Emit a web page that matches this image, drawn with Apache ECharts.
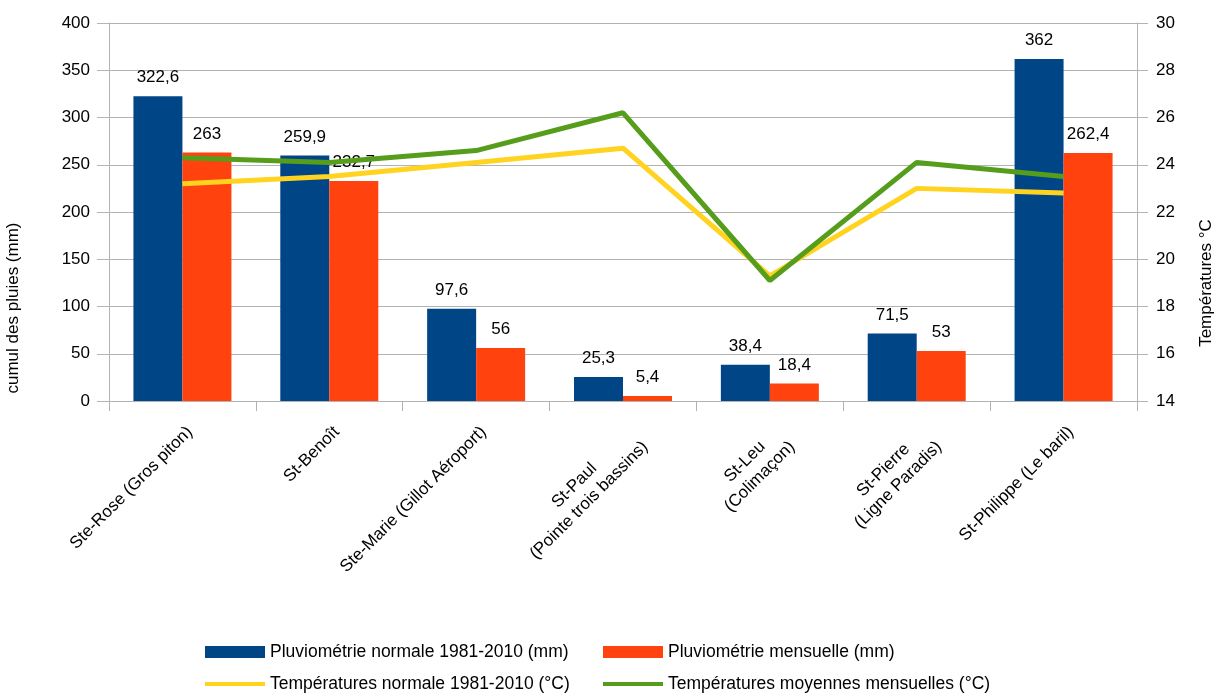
<!DOCTYPE html>
<html>
<head>
<meta charset="utf-8">
<script src="https://cdn.jsdelivr.net/npm/echarts@6/dist/echarts.min.js"></script>
<style>
html,body{margin:0;padding:0;background:#fff;}
#chart{width:1216px;height:693px;}
</style>
</head>
<body>
<div id="chart"></div>
<script>
const categories = [
  'Ste-Rose (Gros piton)',
  'St-Benoît',
  'Ste-Marie (Gillot Aéroport)',
  'St-Paul\n(Pointe trois bassins)',
  'St-Leu\n(Colimaçon)',
  'St-Pierre\n(Ligne Paradis)',
  'St-Philippe (Le baril)'
];
const pluieNormale = [322.6, 259.9, 97.6, 25.3, 38.4, 71.5, 362];
const pluieMensuelle = [263, 232.7, 56, 5.4, 18.4, 53, 262.4];
const tempNormale = [23.2, 23.5, 24.1, 24.7, 19.3, 23.0, 22.8];
const tempMoyenne = [24.3, 24.1, 24.6, 26.2, 19.1, 24.1, 23.5];
const seriesNames = [
  'Pluviométrie normale 1981-2010 (mm)',
  'Pluviométrie mensuelle (mm)',
  'Températures normale 1981-2010 (°C)',
  'Températures moyennes mensuelles (°C)'
];
const leftAxisName = 'cumul des pluies (mm)';
const rightAxisName = 'Températures °C';
const colors = ['#004586', '#ff420e', '#ffd320', '#579d1c'];
const FONT = '"Liberation Sans", Arial, sans-serif';
const FS = 17;

const fmt = v => String(v).replace('.', ',');
const chart = echarts.init(document.getElementById('chart'));

const legendCommon = {
  itemWidth: 60,
  padding: 0,
  textStyle: {fontFamily: FONT, fontSize: 17.5, color: '#000'},
  itemGap: 6,
  selectedMode: false
};

const barLabel = {show: true, position: 'top', distance: 10, fontSize: FS, color: '#000', fontFamily: FONT, formatter: p => fmt(p.value)};

chart.setOption({
  animation: false,
  color: colors,
  textStyle: {fontFamily: FONT},
  grid: {left: 109, right: 79, top: 23, bottom: 292, containLabel: false},
  legend: [
    Object.assign({}, legendCommon, {left: 205, top: 643, itemHeight: 12, icon: 'rect', data: [seriesNames[0]]}),
    Object.assign({}, legendCommon, {left: 603, top: 643, itemHeight: 12, icon: 'rect', data: [seriesNames[1]]}),
    Object.assign({}, legendCommon, {left: 205, top: 675, itemHeight: 4, icon: 'rect', data: [seriesNames[2]]}),
    Object.assign({}, legendCommon, {left: 603, top: 675, itemHeight: 4, icon: 'rect', data: [seriesNames[3]]})
  ],
  xAxis: {
    type: 'category',
    data: categories,
    boundaryGap: true,
    axisLine: {show: true, lineStyle: {color: '#b3b3b3'}},
    axisTick: {show: true, length: 10, lineStyle: {color: '#b3b3b3'}},
    axisLabel: {
      rotate: 45,
      interval: 0,
      margin: 21,
      verticalAlign: 'top',
      fontSize: FS,
      color: '#000',
      fontFamily: FONT,
      formatter: v => v.split('\n').map(s => '{c|' + s + '}').join('\n'),
      rich: {c: {align: 'center', fontSize: FS, fontFamily: FONT, color: '#000', lineHeight: 21}}
    }
  },
  yAxis: [
    {
      type: 'value', min: 0, max: 400, interval: 50,
      axisLine: {show: true, lineStyle: {color: '#b3b3b3'}},
      axisTick: {show: true, length: 12, lineStyle: {color: '#b3b3b3'}},
      splitLine: {show: true, lineStyle: {color: '#b3b3b3'}},
      axisLabel: {fontSize: FS, color: '#000', fontFamily: FONT, margin: 19}
    },
    {
      type: 'value', min: 14, max: 30, interval: 2,
      axisLine: {show: true, lineStyle: {color: '#b3b3b3'}},
      axisTick: {show: true, length: 11, lineStyle: {color: '#b3b3b3'}},
      splitLine: {show: false},
      axisLabel: {fontSize: FS, color: '#000', fontFamily: FONT, margin: 19}
    }
  ],
  graphic: [
    {type: 'text', x: 5, y: 308, rotation: Math.PI / 2, style: {text: leftAxisName, fontSize: FS, fontFamily: FONT, fill: '#000', align: 'center', verticalAlign: 'top'}},
    {type: 'text', x: 1198, y: 283, rotation: Math.PI / 2, style: {text: rightAxisName, fontSize: FS, fontFamily: FONT, fill: '#000', align: 'center', verticalAlign: 'top'}}
  ],
  series: [
    {
      name: seriesNames[0], type: 'bar', data: pluieNormale, yAxisIndex: 0,
      barWidth: 49, barGap: '0%',
      itemStyle: {color: colors[0]},
      label: barLabel
    },
    {
      name: seriesNames[1], type: 'bar', data: pluieMensuelle, yAxisIndex: 0,
      barWidth: 49, barGap: '0%',
      itemStyle: {color: colors[1]},
      label: barLabel
    },
    {
      name: seriesNames[2], type: 'line', data: tempNormale, yAxisIndex: 1,
      symbol: 'none', lineStyle: {width: 5, color: colors[2]}, itemStyle: {color: colors[2]}
    },
    {
      name: seriesNames[3], type: 'line', data: tempMoyenne, yAxisIndex: 1,
      symbol: 'none', lineStyle: {width: 5, color: colors[3]}, itemStyle: {color: colors[3]}
    }
  ]
});
</script>
</body>
</html>
